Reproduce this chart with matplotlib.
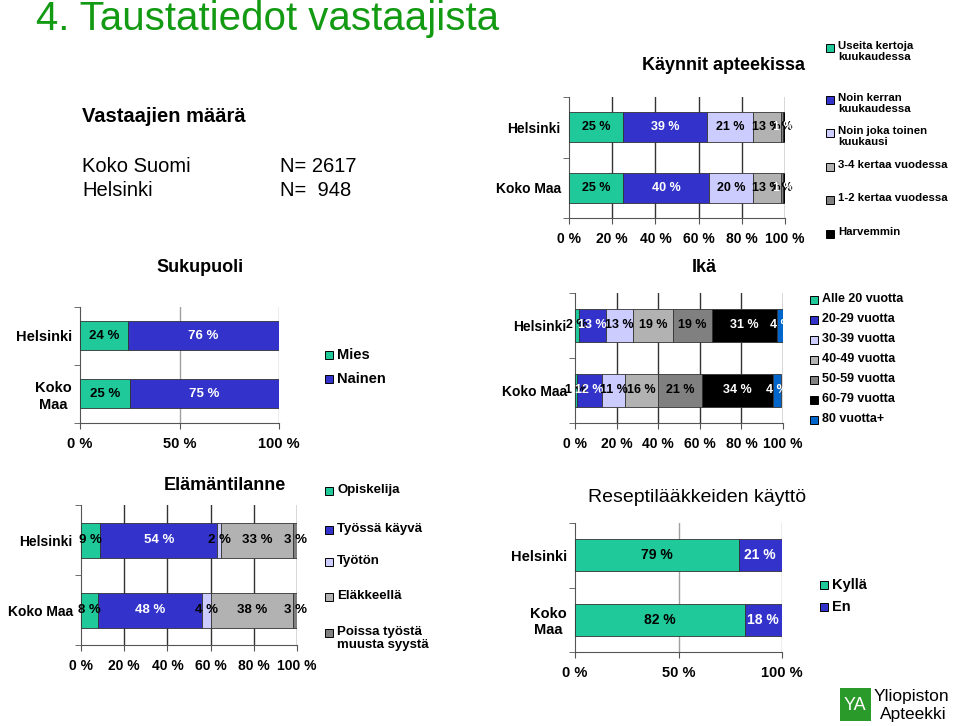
import matplotlib
matplotlib.use("Agg")
import matplotlib.pyplot as plt
from matplotlib.patches import Rectangle

plt.rcParams['font.family'] = ['Liberation Sans', 'DejaVu Sans']

W, H = 960, 726

# --- data ---
cities = ['Helsinki', 'Koko Maa']

visit_labels = ['Useita kertoja\nkuukaudessa', 'Noin kerran\nkuukaudessa', 'Noin joka toinen\nkuukausi',
                '3-4 kertaa vuodessa', '1-2 kertaa vuodessa', 'Harvemmin']
visit_helsinki = [25, 39, 21, 13, 1, 1]
visit_kokomaa = [25, 40, 20, 13, 1, 1]

sex_labels = ['Mies', 'Nainen']
sex_helsinki = [24, 76]
sex_kokomaa = [25, 75]

age_labels = ['Alle 20 vuotta', '20-29 vuotta', '30-39 vuotta', '40-49 vuotta',
              '50-59 vuotta', '60-79 vuotta', '80 vuotta+']
age_helsinki = [2, 13, 13, 19, 19, 31, 4]
age_kokomaa = [1, 12, 11, 16, 21, 34, 4]

life_labels = ['Opiskelija', 'Työssä käyvä', 'Työtön', 'Eläkkeellä', 'Poissa työstä\nmuusta syystä']
life_helsinki = [9, 54, 2, 33, 3]
life_kokomaa = [8, 48, 4, 38, 3]

rx_labels = ['Kyllä', 'En']
rx_helsinki = [79, 21]
rx_kokomaa = [82, 18]

TEAL = '#1fc99a'
BLUE = '#3333cc'
LAV = '#ccccff'
GRAY = '#b2b2b2'
DGRAY = '#808080'
BLACK = '#000000'
MBLUE = '#0066cc'
DARK = {BLUE, BLACK, MBLUE}

fig = plt.figure(figsize=(W / 100, H / 100), dpi=100)


def fx(x):
    return x / W


def fy(y):
    return 1 - y / H


def stacked(box, helsinki, kokomaa, colors, xticks, grid_color, cat_labels, lab_size=9, tick_size=10):
    x0, y0, x1, y1 = box
    ax = fig.add_axes([fx(x0), fy(y1), (x1 - x0) / W, (y1 - y0) / H])
    for ypos, vals in zip([1, 0], [helsinki, kokomaa]):
        left = 0
        for v, c in zip(vals, colors):
            ax.barh(ypos, v, left=left, height=0.5, color=c, edgecolor='#333333', linewidth=0.6, zorder=3)
            ax.text(left + v / 2, ypos, f'{v} %', ha='center', va='center', fontsize=lab_size,
                    fontweight='bold', color='white' if c in DARK else 'black', zorder=4)
            left += v
    ax.set_xlim(0, 100)
    ax.set_ylim(-0.5, 1.5)
    ax.set_xticks(xticks)
    ax.set_xticklabels([f'{t} %' for t in xticks], fontsize=tick_size, fontweight='bold')
    ax.set_yticks([1, 0])
    ax.set_yticklabels(cat_labels, fontsize=tick_size, fontweight='bold', multialignment='center')
    ax.set_yticks([-0.5, 0.5, 1.5], minor=True)
    ax.tick_params(axis='y', which='major', length=0, pad=6)
    ax.tick_params(axis='y', which='minor', length=4, color='#555555')
    ax.tick_params(axis='x', length=4, color='#555555', pad=6)
    for t in xticks[1:]:
        ax.axvline(t, color=grid_color, linewidth=1, zorder=1)
    for s in ['top', 'right']:
        ax.spines[s].set_visible(False)
    ax.spines['left'].set_color('#555555')
    ax.spines['bottom'].set_color('#555555')
    return ax


def legend(x, ys, colors, labels, size=9):
    for y, c, lab in zip(ys, colors, labels):
        fig.patches.append(Rectangle((fx(x), fy(y + 4)), 8 / W, 8 / H, transform=fig.transFigure,
                                     facecolor=c, edgecolor='black', linewidth=0.7))
        fig.text(fx(x + 12), fy(y - 7), lab, fontsize=size, fontweight='bold', va='top', ha='left',
                 linespacing=1.15)


# title
fig.text(fx(36), fy(19), '4. Taustatiedot vastaajista', fontsize=29, color='#139a13', va='center', ha='left')

# respondent counts
fig.text(fx(82), fy(117), 'Vastaajien määrä', fontsize=14.5, fontweight='bold', va='center')
fig.text(fx(82), fy(167), 'Koko Suomi', fontsize=14.5, va='center')
fig.text(fx(280), fy(167), 'N= 2617', fontsize=14.5, va='center')
fig.text(fx(82), fy(191), 'Helsinki', fontsize=14.5, va='center')
fig.text(fx(280), fy(191), 'N=  948', fontsize=14.5, va='center')

# visits
c6 = [TEAL, BLUE, LAV, GRAY, DGRAY, BLACK]
stacked((569, 97, 785, 218), visit_helsinki, visit_kokomaa, c6, [0, 20, 40, 60, 80, 100], '#333333',
        cities, lab_size=9, tick_size=10)
fig.text(fx(723), fy(65), 'Käynnit apteekissa', fontsize=13, fontweight='bold', ha='center', va='center')
legend(826, [48, 100, 133, 167, 200, 234], c6, visit_labels, size=8.2)

# sex
fig.text(fx(200), fy(268), 'Sukupuoli', fontsize=13, fontweight='bold', ha='center', va='center')
fig.text(fx(704), fy(268), 'Ikä', fontsize=13, fontweight='bold', ha='center', va='center')
stacked((80, 307, 279, 423), sex_helsinki, sex_kokomaa, [TEAL, BLUE], [0, 50, 100], '#a0a0a0',
        ['Helsinki', 'Koko\nMaa'], lab_size=9.5, tick_size=10.5)
legend(325, [355, 379], [TEAL, BLUE], sex_labels, size=10.5)

# age
c7 = [TEAL, BLUE, LAV, GRAY, DGRAY, BLACK, MBLUE]
stacked((575, 293, 783, 423), age_helsinki, age_kokomaa, c7, [0, 20, 40, 60, 80, 100], '#333333',
        cities, lab_size=9, tick_size=10)
legend(810, [300, 320, 340, 360, 380, 400, 420], c7, age_labels, size=9)

# life situation
c5 = [TEAL, BLUE, LAV, GRAY, DGRAY]
stacked((81, 505, 297, 645), life_helsinki, life_kokomaa, c5, [0, 20, 40, 60, 80, 100], '#333333',
        cities, lab_size=9.5, tick_size=10)
fig.text(fx(225), fy(485), 'Elämäntilanne', fontsize=13, fontweight='bold', ha='center', va='center')
legend(325, [491, 530, 562, 597, 633], c5, life_labels, size=9.5)

# prescription drugs
stacked((575, 523, 782, 652), rx_helsinki, rx_kokomaa, [TEAL, BLUE], [0, 50, 100], '#a0a0a0',
        ['Helsinki', 'Koko\nMaa'], lab_size=10, tick_size=10.5)
fig.text(fx(697), fy(497), 'Reseptilääkkeiden käyttö', fontsize=14, ha='center', va='center')
legend(820, [585, 607], [TEAL, BLUE], rx_labels, size=10.5)

# logo
fig.patches.append(Rectangle((fx(840), fy(721)), 31 / W, 33 / H, transform=fig.transFigure,
                             facecolor='#2a9a2a', edgecolor='none'))
fig.text(fx(855), fy(705), 'YA', fontsize=13, color='white', ha='center', va='center')
fig.text(fx(874), fy(697), 'Yliopiston', fontsize=12.5, ha='left', va='center')
fig.text(fx(880), fy(714), 'Apteekki', fontsize=12.5, ha='left', va='center')

fig.savefig('out.png', dpi=100)
